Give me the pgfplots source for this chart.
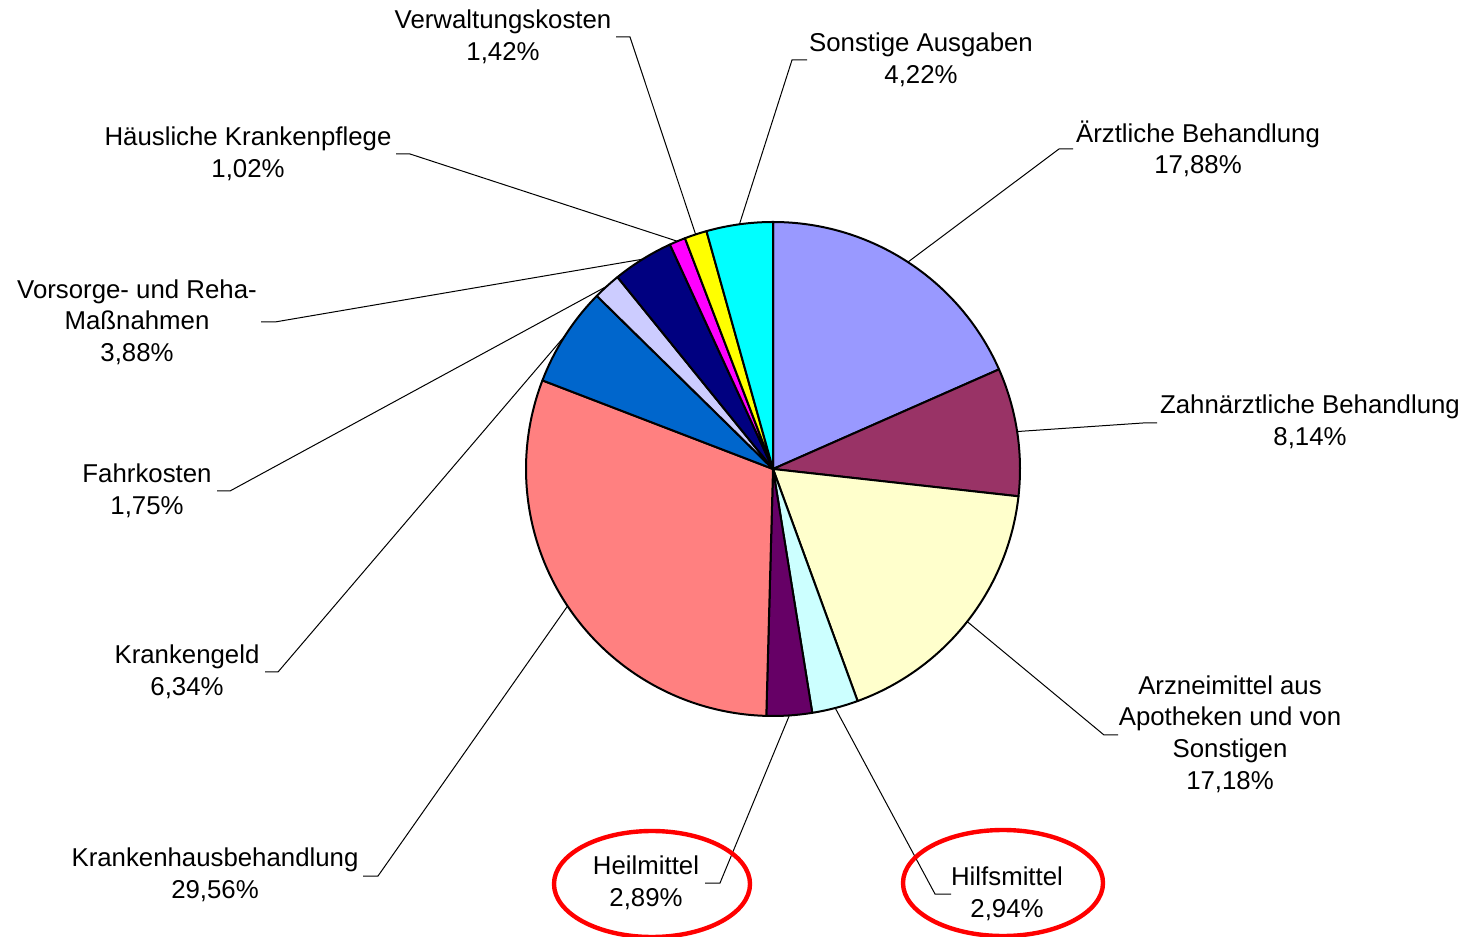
\documentclass[border=0pt]{standalone}
\usepackage{fontspec}
\setmainfont{Liberation Sans}
\usepackage{pgfplots}
\pgfplotsset{compat=1.18}

\definecolor{c1}{HTML}{9999FF}
\definecolor{c2}{HTML}{993366}
\definecolor{c3}{HTML}{FFFFCC}
\definecolor{c4}{HTML}{CCFFFF}
\definecolor{c5}{HTML}{660066}
\definecolor{c6}{HTML}{FF8080}
\definecolor{c7}{HTML}{0066CC}
\definecolor{c8}{HTML}{CCCCFF}
\definecolor{c9}{HTML}{000080}
\definecolor{c10}{HTML}{FF00FF}
\definecolor{c11}{HTML}{FFFF00}
\definecolor{c12}{HTML}{00FFFF}

\tikzset{lbl/.style={font=\fontsize{12.9}{15.8}\selectfont, align=center, inner sep=0pt}}

\begin{document}
\begin{tikzpicture}
\begin{axis}[
    x=0.5pt, y=0.5pt,
    xmin=0, xmax=1465, ymin=0, ymax=936,
    hide axis,
    clip=true,
]
\path (axis cs:0,0) rectangle (axis cs:1465,936);

% value / colour / bend x / bend y / end x of the leader line
\xdef\cum{0}
\foreach \v/\c/\bx/\by/\ex in {
    17.88/c1/1059/787/1073,
    8.14/c2/1143/513/1157,
    17.18/c3/1104/201/1118,
    2.94/c4/935/42/951,
    2.89/c5/720/53/705,
    29.56/c6/378/60/363,
    6.34/c7/278/264/265,
    1.75/c8/230/445/217,
    3.88/c9/275/614/261,
    1.02/c10/410/782/396,
    1.42/c11/630/899/616,
    4.22/c12/792/876/807} {
  \pgfmathsetmacro{\s}{90-\cum/97.22*360}
  \pgfmathsetmacro{\e}{90-(\cum+\v)/97.22*360}
  \pgfmathsetmacro{\m}{(\s+\e)/2}
  \pgfmathparse{\cum+\v}\xdef\cum{\pgfmathresult}
  \edef\temp{%
    \noexpand\filldraw[fill=\c, draw=black, line width=1pt, line join=round]
      (axis cs:773,467) -- ++(\s:123.5pt) arc[start angle=\s, end angle=\e, radius=123.5pt] -- cycle;
    \noexpand\draw[line width=0.5pt]
      (axis cs:773,467) ++(\m:123.5pt) -- (axis cs:\bx,\by) -- (axis cs:\ex,\by);}
  \temp
}

\node[lbl] at (axis cs:1198,787) {Ärztliche Behandlung\\17,88\%};
\node[lbl] at (axis cs:1310,514) {Zahnärztliche Behandlung\\8,14\%};
\node[lbl] at (axis cs:1230,202) {Arzneimittel aus\\Apotheken und von\\Sonstigen\\17,18\%};
\node[lbl] at (axis cs:1007,42) {Hilfsmittel\\2,94\%};
\node[lbl] at (axis cs:646,53) {Heilmittel\\2,89\%};
\node[lbl] at (axis cs:215,61) {Krankenhausbehandlung\\29,56\%};
\node[lbl] at (axis cs:187,264) {Krankengeld\\6,34\%};
\node[lbl] at (axis cs:147,445) {Fahrkosten\\1,75\%};
\node[lbl] at (axis cs:137,614) {Vorsorge- und Reha-\\Maßnahmen\\3,88\%};
\node[lbl] at (axis cs:248,782) {Häusliche Krankenpflege\\1,02\%};
\node[lbl] at (axis cs:503,899) {Verwaltungskosten\\1,42\%};
\node[lbl] at (axis cs:921,876) {Sonstige Ausgaben\\4,22\%};

\draw[red, line width=2.2pt] (axis cs:652,52) ellipse[x radius=49pt, y radius=26.5pt];
\draw[red, line width=2.2pt] (axis cs:1003,53) ellipse[x radius=50pt, y radius=26.5pt];
\end{axis}
\end{tikzpicture}
\end{document}
